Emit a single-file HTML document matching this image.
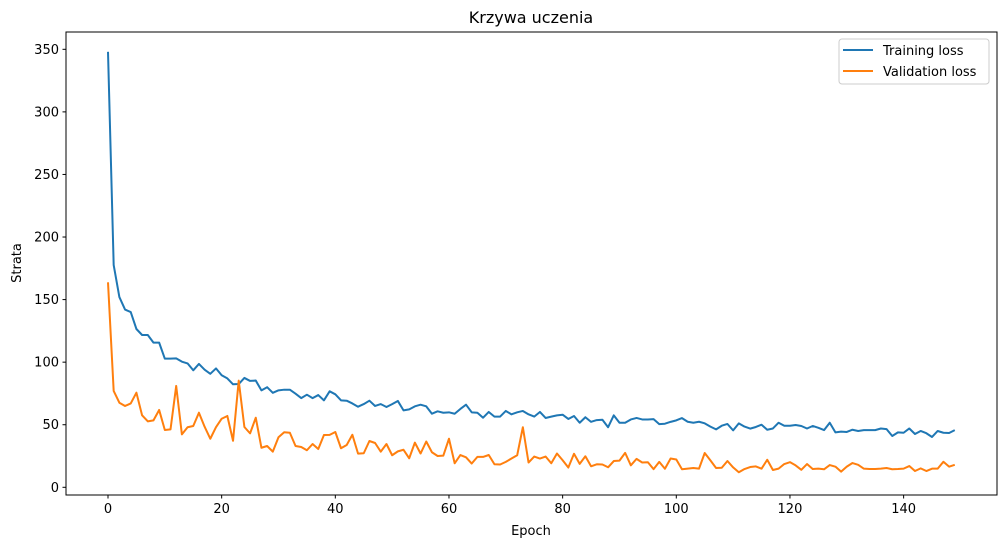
<!DOCTYPE html>
<html><head><meta charset="utf-8"><style>
body{margin:0;background:#fff;}
svg{font-family:"DejaVu Sans","Liberation Sans",sans-serif;}
</style></head><body>
<svg id="chart" width="1005" height="547" viewBox="0 0 1005 547" xmlns="http://www.w3.org/2000/svg">
<rect width="1005" height="547" fill="#fff"/>
<text x="531" y="23" text-anchor="middle" font-size="16">Krzywa uczenia</text>
<g id="ticks"></g>
<g id="series"></g>
<rect x="66" y="32" width="931" height="463" fill="none" stroke="#000" stroke-width="1"/>
<text x="531" y="535" text-anchor="middle" font-size="13">Epoch</text>
<text transform="translate(21,263) rotate(-90)" text-anchor="middle" font-size="13">Strata</text>
<g>
<rect x="839" y="39" width="150" height="45" rx="3" fill="#fff" stroke="#ccc" stroke-width="1"/>
<line x1="843" y1="50" x2="873" y2="50" stroke="#1f77b4" stroke-width="2"/>
<text x="883" y="55" font-size="13">Training loss</text>
<line x1="843" y1="71" x2="873" y2="71" stroke="#ff7f0e" stroke-width="2"/>
<text x="883" y="76" font-size="13">Validation loss</text>
</g>
</svg>
<script>
const xTicks=[0,20,40,60,80,100,120,140];
const yTicks=[0,50,100,150,200,250,300,350];
const trainLoss=[348,177.6,152,142,140,126.5,121.7,121.7,115.6,115.6,102.8,102.8,103,100.4,99,93.5,98.6,94,90.7,95,89.5,87,82.3,82.5,87.4,85,85.3,77.5,80,75.5,77.5,78,78,74.8,71.3,74,71.3,73.7,69.5,76.7,74.3,69.5,69.2,67,64.4,66.5,69.2,65,66.5,64.2,66.5,69,61.5,62.3,64.7,66,64.7,58.8,60.7,59.6,59.9,58.8,62.6,66,59.9,59.6,55.6,60.2,56.5,56.5,61,58.3,59.9,61,58.3,56.5,60.2,55.4,56.5,57.5,58,54.6,57,51.6,56,52.3,53.7,54,48,57.5,51.6,51.6,54.2,55.4,54.2,54.2,54.5,50.5,50.8,52.3,53.5,55.3,52.4,51.6,52.4,51.1,48.5,46.3,49.2,50.6,45.5,51.1,48.5,46.9,48.2,50,46,47,51.6,49.2,49.2,49.8,49,47,49,47.5,45.7,51.6,43.9,44.5,44.2,46,45,45.7,45.7,45.7,47,46.5,41,43.9,43.6,47,42.6,45,43.2,40.2,45,43.6,43.4,45.7];
const valLoss=[163.8,77,67.6,65,67,75.6,57.5,52.7,53.5,61.8,45.8,46.3,81,42.3,48,49,59.6,48.4,38.8,48,54.8,57,37.2,85.2,48.2,43.1,55.6,31.6,33,28.5,40,44,43.6,33,32.2,29.6,34.6,30.6,41.8,41.9,44.2,31.2,33.8,42,26.9,27.2,37,35.4,28.5,34.6,25.6,28.7,30,23.2,35.7,27,36.6,28,25,25.3,38.8,19.2,25.8,24,19,24.3,24.3,25.8,18.4,18.2,20.3,23,25.6,48,19.8,24.6,23,24.6,19.2,27,21.6,15.8,26.8,18.7,24.8,16.8,18.4,18.2,16,21,21.3,27.5,17.6,22.7,19.8,20,14.5,20.3,14.8,23,22.2,14.4,14.9,15.4,14.9,27.4,21.5,15.4,15.6,21,15.9,12,14.6,16.2,16.7,14.9,22,13.8,14.9,18.6,20.1,17.5,14,18.6,14.6,14.9,14.4,17.8,16.5,12.5,16.5,19.4,18,14.9,14.6,14.6,14.9,15.4,14.4,14.6,14.9,17,13,15.1,13,14.9,14.9,20.4,16.5,18];
const NS="http://www.w3.org/2000/svg";
function xPos(e){return 108+e*5.683;}
function yPos(v){return 487.3-v*1.2514;}
const tg=document.getElementById('ticks');
xTicks.forEach(t=>{
  const l=document.createElementNS(NS,'line');
  
  
  l.setAttribute('x1',xPos(t));l.setAttribute('x2',xPos(t));l.setAttribute('y1',495);l.setAttribute('y2',498.5);l.setAttribute('stroke','#000');
  tg.appendChild(l);
  const tx=document.createElementNS(NS,'text');
  
  
  tx.setAttribute('x',xPos(t));tx.setAttribute('y',513);tx.setAttribute('text-anchor','middle');tx.setAttribute('font-size','13');
  tx.textContent=t;tg.appendChild(tx);
});
yTicks.forEach(t=>{
  const l=document.createElementNS(NS,'line');
  
  
  l.setAttribute('x1',62.5);l.setAttribute('x2',66);l.setAttribute('y1',yPos(t));l.setAttribute('y2',yPos(t));l.setAttribute('stroke','#000');
  tg.appendChild(l);
  const tx=document.createElementNS(NS,'text');
  
  
  tx.setAttribute('x',59);tx.setAttribute('y',yPos(t)+4.5);tx.setAttribute('text-anchor','end');tx.setAttribute('font-size','13');
  tx.textContent=t;tg.appendChild(tx);
});
const sg=document.getElementById('series');
function drawLine(arr,color,name){
  const p=document.createElementNS(NS,'polyline');
  
  
  p.setAttribute('points',arr.map((v,i)=>xPos(i).toFixed(2)+','+yPos(v).toFixed(2)).join(' '));
  p.setAttribute('fill','none');p.setAttribute('stroke',color);p.setAttribute('stroke-width','2');p.setAttribute('stroke-linejoin','round');
  sg.appendChild(p);
}
drawLine(trainLoss,'#1f77b4','training-loss-line');
drawLine(valLoss,'#ff7f0e','validation-loss-line');
</script>
</body></html>
